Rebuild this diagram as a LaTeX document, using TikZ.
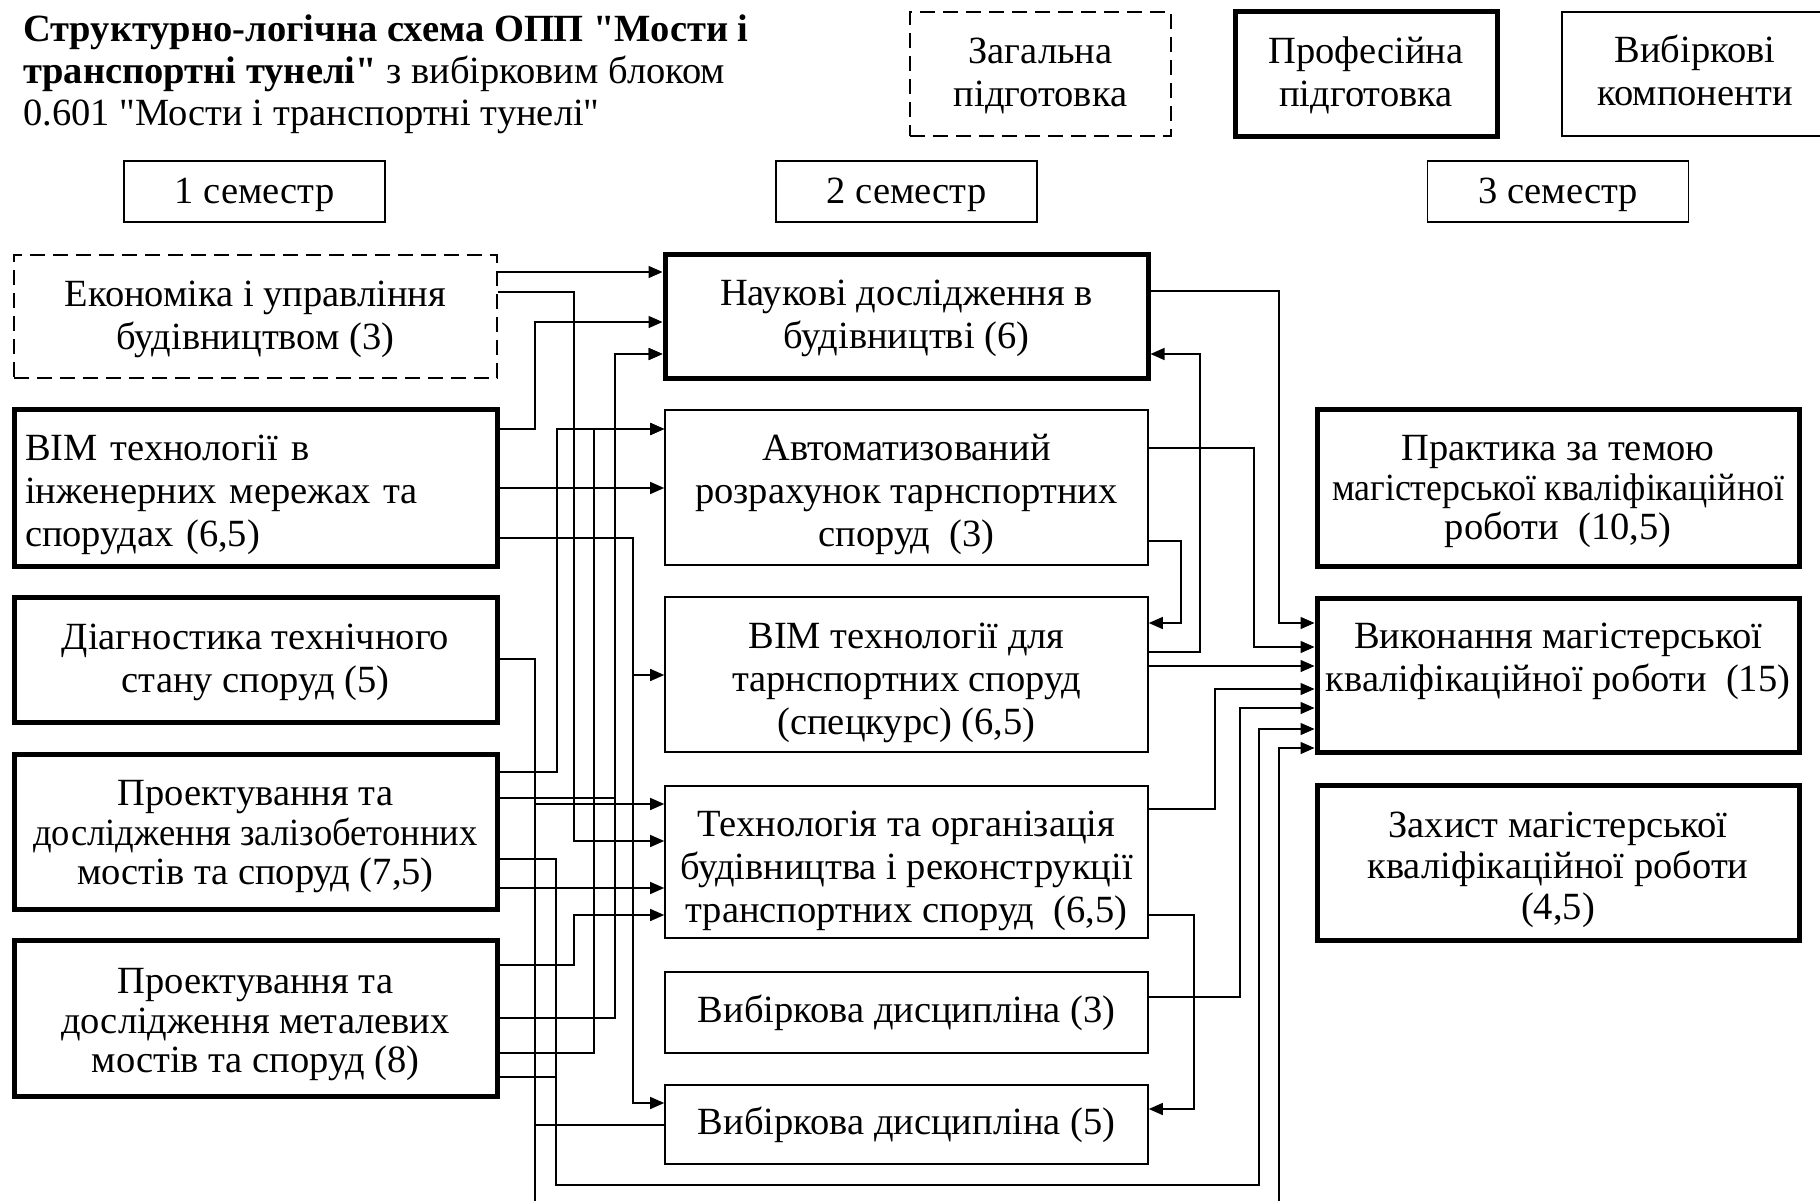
\documentclass[tikz,border=0pt]{standalone}
\usepackage{fontspec}
\usepackage{graphicx}
\setmainfont{Liberation Serif}[Ligatures=TeXOff]
\usetikzlibrary{arrows.meta}
\newcommand{\squeeze}[2]{\scalebox{#1}[1]{#2}}
% shift text of a box down (first-line strut) or up (last-line strut)
\newcommand{\dn}[1]{\rule{0pt}{\dimexpr 26.5pt+#1pt+#1pt\relax}}
\newcommand{\upby}[2]{\rule[-\dimexpr #2pt+#1pt+#1pt\relax]{0pt}{\dimexpr #2pt+#1pt+#1pt\relax}}
\begin{document}
\begin{tikzpicture}[x=1pt,y=-1pt,
  every node/.style={font=\fontsize{38.5}{43}\selectfont},
  tight/.style={font=\fontsize{38.5}{39.5}\selectfont},
  basebox/.style={draw, rectangle, inner sep=0pt, align=center},
  thinbox/.style={basebox, line width=1.6pt},
  thickbox/.style={basebox, line width=5pt},
  dashbox/.style={basebox, line width=1.6pt, dashed, dash pattern=on 15pt off 8pt},
  colw/.style={minimum width=483pt},
  conn/.style={line width=1.4pt},
  arr/.style={conn, -{Triangle[length=14pt,width=12pt]}},
]
\useasboundingbox (0,0) rectangle (1820,1201);
\clip (0,0) rectangle (1820,1201);

% title
\node[anchor=north west, align=left, inner sep=0pt, font=\fontsize{38.5}{42}\selectfont] (title) at (23,15)
  {\textbf{Структурно-логічна схема ОПП "Мости і}\\
   \textbf{транспортні тунелі"} з вибірковим блоком\\
   0.601 "Мости і транспортні тунелі"};

% legend
\node[dashbox, minimum width=261pt, minimum height=124pt] (lgZ) at (1040.5,74) {\dn{1}Загальна\\підготовка};
\node[thickbox, minimum width=262pt, minimum height=125pt] (lgP) at (1366,74) {\dn{1}Професійна\\підготовка};
\node[thinbox, minimum width=266pt, minimum height=124pt] (lgV) at (1695,74) {Вибіркові\\компоненти\upby{3.5}{0}};

% semesters
\node[thinbox, minimum width=261pt, minimum height=61pt] (S1) at (254.5,191.5) {\dn{3}1 семестр};
\node[thinbox, minimum width=261pt, minimum height=61pt] (S2) at (906.5,191.5) {\dn{3}2 семестр};
\node[thinbox, minimum width=261pt, minimum height=61pt] (S3) at (1558,191.5) {\dn{3}3 семестр};

% left column
\node[dashbox, colw, minimum height=123pt] (E1) at (255.5,316.5) {\dn{2}Економіка і управління\\будівництвом (3)};
\node[thickbox, colw, minimum height=157pt, text width=461pt, align=left] (B2) at (255.5,487.5) {\dn{7}BIM технології в\\інженерних мережах та\\спорудах (6,5)};
\node[thickbox, colw, minimum height=125pt] (D3) at (255.5,659.5) {\dn{2.5}Діагностика технічного\\стану споруд (5)};
\node[thickbox, colw, tight, minimum height=155pt] (P4) at (255.5,831.5) {\dn{4.5}Проектування та\\\squeeze{0.95}{дослідження залізобетонних}\\мостів та споруд (7,5)};
\node[thickbox, colw, tight, minimum height=156pt] (P5) at (255.5,1018) {\dn{6}Проектування та\\дослідження металевих\\мостів та споруд (8)};

% middle column
\node[thickbox, colw, minimum height=124pt] (M1) at (906.5,316) {\dn{2}Наукові дослідження в\\будівництві (6)};
\node[thinbox, colw, minimum height=155pt] (M2) at (906.5,487.5) {\dn{7}Автоматизований\\розрахунок тарнспортних\\споруд~~(3)};
\node[thinbox, colw, minimum height=155pt] (M3) at (906.5,674.5) {\dn{8}BIM технології для\\тарнспортних споруд\\(спецкурс) (6,5)};
\node[thinbox, colw, minimum height=152pt] (M4) at (906.5,862) {\dn{8}Технологія та організація\\будівництва і реконструкції\\транспортних споруд~~(6,5)};
\node[thinbox, colw, minimum height=81pt] (M5) at (906.5,1012.5) {\dn{1}Вибіркова дисципліна (3)};
\node[thinbox, colw, minimum height=79pt] (M6) at (906.5,1124.5) {\dn{1}Вибіркова дисципліна (5)};

% right column
\node[thickbox, tight, minimum width=482pt, minimum height=157pt] (R1) at (1558,487.5) {\dn{3.5}Практика за темою\\\squeeze{0.93}{магістерської кваліфікаційної}\\роботи~~(10,5)};
\node[thickbox, minimum width=482pt, minimum height=154pt] (R2) at (1558,675) {Виконання магістерської\\кваліфікаційної роботи~~(15)\upby{14}{8.5}};
\node[thickbox, minimum width=482pt, minimum height=155pt, font=\fontsize{38.5}{41}\selectfont] (R3) at (1558,862.5) {\dn{7}Захист магістерської\\кваліфікаційної роботи\\(4,5)};

% off-page ends
\coordinate (offA) at (535,1201);
\coordinate (offB) at (1279,1201);

% left-side connectors
\draw[arr] (E1.east |- 0,272) -- (M1.west |- 0,272);
\draw[arr] (E1.east |- 0,292) -- (574,292) -- (574,841) -- (M4.west |- 0,841);
\draw[arr] (B2.east |- 0,429) -- (535,429) -- (535,322) -- (M1.west |- 0,322);
\draw[arr] (P4.east |- 0,798) -- (615,798) -- (615,354) -- (M1.west |- 0,354);
\draw[arr] (P5.east |- 0,1018) -- (615,1018) -- (615,354) -- (M1.west |- 0,354);
\draw[arr] (P4.east |- 0,772) -- (557,772) -- (557,429) -- (M2.west |- 0,429);
\draw[arr] (P5.east |- 0,1053) -- (594,1053) -- (594,429) -- (M2.west |- 0,429);
\draw[arr] (B2.east |- 0,488) -- (M2.west |- 0,488);
\draw[arr] (B2.east |- 0,538) -- (633,538) -- (633,675) -- (M3.west |- 0,675);
\draw[arr] (B2.east |- 0,538) -- (633,538) -- (633,1103) -- (M6.west |- 0,1103);
\draw[arr] (D3.east |- 0,659) -- (535,659) -- (535,804) -- (M4.west |- 0,804);
\draw[conn] (D3.east |- 0,659) -- (535,659) -- (offA);
\draw[conn] (M6.west |- 0,1125) -- (535,1125);
\draw[arr] (P4.east |- 0,888) -- (M4.west |- 0,888);
\draw[arr] (P5.east |- 0,965) -- (574,965) -- (574,915) -- (M4.west |- 0,915);
\draw[arr] (P4.east |- 0,859) -- (556,859) -- (556,1185) -- (1259,1185) -- (1259,729) -- (R2.west |- 0,729);
\draw[conn] (P5.east |- 0,1077) -- (556,1077);

% right-side connectors
\draw[arr] (M1.east |- 0,291) -- (1279,291) -- (1279,623) -- (R2.west |- 0,623);
\draw[arr] (M3.east |- 0,652) -- (1200,652) -- (1200,354) -- (M1.east |- 0,354);
\draw[arr] (M2.east |- 0,448) -- (1254,448) -- (1254,647) -- (R2.west |- 0,647);
\draw[arr] (M2.east |- 0,541) -- (1181,541) -- (1181,623) -- (M3.east |- 0,623);
\draw[arr] (M3.east |- 0,666) -- (R2.west |- 0,666);
\draw[arr] (M4.east |- 0,809) -- (1215,809) -- (1215,689) -- (R2.west |- 0,689);
\draw[arr] (M5.east |- 0,997) -- (1240,997) -- (1240,708) -- (R2.west |- 0,708);
\draw[arr] (offB) -- (1279,748) -- (R2.west |- 0,748);
\draw[arr] (M4.east |- 0,915) -- (1194,915) -- (1194,1109) -- (M6.east |- 0,1109);
\end{tikzpicture}
\end{document}
